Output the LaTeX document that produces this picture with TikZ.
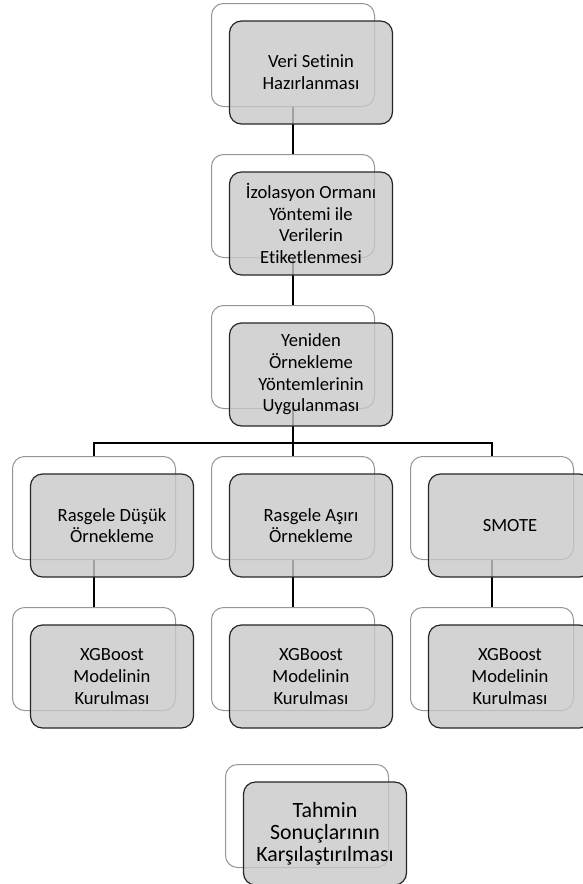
\documentclass[tikz,border=0pt]{standalone}
\usepackage{fontspec}
\setmainfont{Carlito}[Ligatures={NoCommon}]
\usepackage{tikz}
\usetikzlibrary{shapes, arrows, backgrounds}
\definecolor{boxgray}{RGB}{200,200,200}
\definecolor{edgegray}{RGB}{150,150,150}
\tikzstyle{back}  = [rectangle, draw=edgegray, line width=0.5pt, rounded corners=6pt, fill=white, minimum width=81.5pt, minimum height=51.5pt]
\tikzstyle{front} = [rectangle, draw=black!85, line width=0.6pt, rounded corners=6pt, fill=boxgray, fill opacity=0.8, text opacity=1, minimum width=81.5pt, minimum height=51.5pt, align=center, font=\fontsize{9.3}{10.85}\selectfont]
\tikzstyle{big}   = [font=\fontsize{10.9}{11}\selectfont]
\tikzstyle{link}  = [draw, line width=1pt]

\begin{document}
\begin{tikzpicture}[node distance = 75.5pt, auto]
    \clip (0,0) rectangle (291.5pt,-442pt);
    % back boxes
    \node[back] at (146.5pt,-27.5pt) (prepback) {};
    \node[back, below of=prepback] (labelback) {};
    \node[back, below of=labelback] (resampleback) {};
    \node[back, below of=resampleback] (rosback) {};
    \node[back, left of=rosback, node distance=99.5pt] (rusback) {};
    \node[back, right of=rosback, node distance=99.5pt] (smoteback) {};
    \node[back, below of=rusback] (rusfitback) {};
    \node[back, below of=rosback] (rosfitback) {};
    \node[back, below of=smoteback] (smotefitback) {};
    \node[back, below of=rosfitback, node distance=78.5pt, xshift=7pt] (compareback) {};
    % connectors, behind the boxes
    \coordinate (bus) at ([yshift=-17pt]resampleback.south);
    \begin{scope}[on background layer]
        \path[link](prepback.center) -- (labelback.center);
        \path[link](labelback.center) -- (resampleback.center);
        \path[link](resampleback.center) -- (bus) -| (rusback.center);
        \path[link](bus) -| (smoteback.center);
        \path[link](bus) -- (rosback.center);
        \path[link](rusback.center) -- (rusfitback.center);
        \path[link](rosback.center) -- (rosfitback.center);
        \path[link](smoteback.center) -- (smotefitback.center);
    \end{scope}
    % front boxes
    \node[front] at ([shift={(9pt,-8.75pt)}]prepback) (prep) {Veri Setinin\\Hazırlanması};
    \node[front] at ([shift={(9pt,-8.75pt)}]labelback) (label) {İzolasyon Ormanı\\Yöntemi ile\\Verilerin\\Etiketlenmesi};
    \node[front] at ([shift={(9pt,-8.75pt)}]resampleback) (resample) {Yeniden\\Örnekleme\\Yöntemlerinin\\Uygulanması};
    \node[front] at ([shift={(9pt,-8.75pt)}]rusback) (rus) {Rasgele Düşük\\Örnekleme};
    \node[front] at ([shift={(9pt,-8.75pt)}]rosback) (ros) {Rasgele Aşırı\\Örnekleme};
    \node[front] at ([shift={(9pt,-8.75pt)}]smoteback) (smote) {SMOTE};
    \node[front] at ([shift={(9pt,-8.75pt)}]rusfitback) (rusfit) {XGBoost\\Modelinin\\Kurulması};
    \node[front] at ([shift={(9pt,-8.75pt)}]rosfitback) (rosfit) {XGBoost\\Modelinin\\Kurulması};
    \node[front] at ([shift={(9pt,-8.75pt)}]smotefitback) (smotefit) {XGBoost\\Modelinin\\Kurulması};
    \node[front, big] at ([shift={(9pt,-8.75pt)}]compareback) (compare) {Tahmin\\Sonuçlarının\\Karşılaştırılması};
\end{tikzpicture}
\end{document}
